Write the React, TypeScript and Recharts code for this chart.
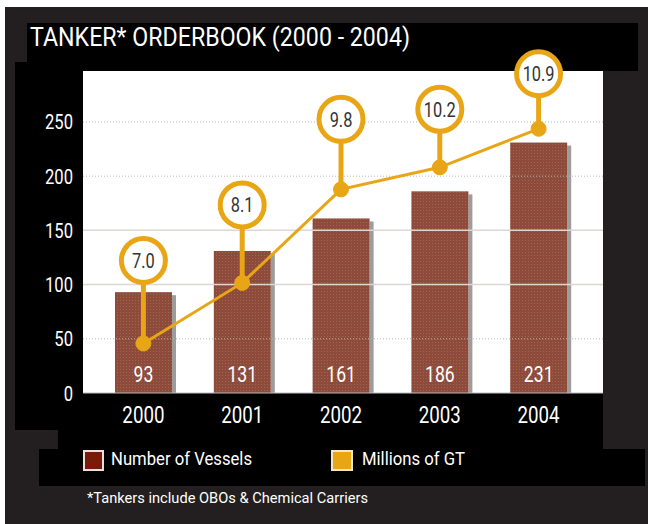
import { ComposedChart, Bar, Line, XAxis, YAxis, ReferenceLine, LabelList } from 'recharts'

const years = ['2000', '2001', '2002', '2003', '2004']
const vessels = [93, 131, 161, 186, 231]
const millionsGT = [7.0, 8.1, 9.8, 10.2, 10.9]
const yTicks = [0, 50, 100, 150, 200, 250]
const dottedGrid = [50, 200, 250]
const solidGrid = [100, 150]

const data = years.map((year, i) => ({ year, vessels: vessels[i], gt: millionsGT[i] }))

const FONT = 'Roboto, "Noto Sans", sans-serif'
const ORANGE = '#e8a617'
const BROWN = '#8e4a3b'

// how far above each point its callout circle sits
const calloutRise = [83, 78, 70, 58, 55]

// condensed look: squeeze Roboto horizontally around its anchor
function Narrow({ x, y, sx, size, fill = '#fff', anchor = 'middle', children }: any) {
  return (
    <text transform={`translate(${x},${y}) scale(${sx},1)`} x={0} y={0} fill={fill}
      fontSize={size} fontFamily={FONT} textAnchor={anchor}>
      {children}
    </text>
  )
}

function XTick(props: any) {
  const { x, y, payload } = props
  return <Narrow x={x} y={y + 30} sx={0.78} size={24}>{payload.value}</Narrow>
}

function YTick(props: any) {
  const { x, y, payload } = props
  return <Narrow x={x - 10} y={y + 7.5} sx={0.83} size={20} anchor="end">{payload.value}</Narrow>
}

function TexturedBar(props: any) {
  const { x, y, width, height, index } = props
  if (height <= 0) return null
  const pid = `dots-${index}`
  return (
    <g>
      <defs>
        <pattern id={pid} width="3" height="3" patternUnits="userSpaceOnUse">
          <rect width="3" height="3" fill={BROWN} />
          <rect width="1" height="1" fill="#9b6a4c" />
        </pattern>
      </defs>
      <rect x={x + width} y={y + 3} width={4} height={height - 3} fill="#4a4a4a" opacity={0.55} />
      <rect x={x} y={y} width={width} height={height} fill={`url(#${pid})`} />
    </g>
  )
}

function barLabel(props: any) {
  const { x, y, width, height, value } = props
  return <Narrow x={x + width / 2} y={y + height - 11.5} sx={0.8} size={22}>{value}</Narrow>
}

function callout(props: any) {
  const { x, y, value, index } = props
  const r = 22
  const cy = y - calloutRise[index]
  return (
    <g>
      <line x1={x} y1={cy + r} x2={x} y2={y} stroke={ORANGE} strokeWidth={5} />
      <circle cx={x} cy={cy} r={r} fill="#fff" stroke={ORANGE} strokeWidth={5} />
      <Narrow x={x} y={cy + 7.5} sx={0.78} size={21} fill="#333">{Number(value).toFixed(1)}</Narrow>
    </g>
  )
}

function box(left: number, top: number, width: number, height: number, background: string) {
  return <div style={{ position: 'absolute', left, top, width, height, background }} />
}

export default function App() {
  return (
    <div style={{ position: 'absolute', left: 0, top: 0, width: 648, height: 524, background: '#fff', overflow: 'hidden' }}>
      {box(5, 7, 643, 517, '#231f20')}
      {box(27, 23, 611, 48, '#000')}
      {box(15, 62, 588, 368, '#000')}
      {box(58, 430, 545, 20, '#000')}
      {box(39, 449, 606, 37, '#000')}
      {box(83, 71, 520, 322, '#fff')}
      <div style={{ position: 'absolute', left: 83, top: 450, width: 17, height: 17, background: '#7a1a08', border: '2px solid #e8e2dc' }} />
      <div style={{ position: 'absolute', left: 331, top: 450, width: 18, height: 17, background: ORANGE, border: '2px solid #f2e6c8' }} />

      <svg width={648} height={524} style={{ position: 'absolute', left: 0, top: 0 }}>
        <text x={30} y={46} fill="#fff" fontSize={25} fontFamily={FONT} textLength={380} lengthAdjust="spacingAndGlyphs">
          TANKER* ORDERBOOK (2000 - 2004)
        </text>
        <text x={111} y={465} fill="#fff" fontSize={19} fontFamily={FONT} textLength={141} lengthAdjust="spacingAndGlyphs">
          Number of Vessels
        </text>
        <text x={362} y={465} fill="#fff" fontSize={19} fontFamily={FONT} textLength={103} lengthAdjust="spacingAndGlyphs">
          Millions of GT
        </text>
        <text x={87} y={503} fill="#fff" fontSize={14} fontFamily={FONT} textLength={281} lengthAdjust="spacingAndGlyphs">
          *Tankers include OBOs &amp; Chemical Carriers
        </text>
      </svg>

      <div style={{ position: 'absolute', left: 0, top: 0 }}>
        <ComposedChart width={648} height={524} data={data}
          margin={{ top: 71, right: 45, bottom: 101, left: 23 }}>
          <XAxis dataKey="year" padding={{ left: 11, right: 15 }} height={30}
            axisLine={{ stroke: '#bdbdbd' }} tickLine={false} tickSize={0} tickMargin={0}
            tick={XTick} />
          <YAxis yAxisId="left" width={60} domain={[0, 297]} ticks={yTicks} interval={0}
            axisLine={false} tickLine={false} tickSize={0} tickMargin={0}
            tick={YTick} />
          <YAxis yAxisId="right" orientation="right" hide domain={[6.1, 11.95]} />
          {dottedGrid.map(v => (
            <ReferenceLine key={`d${v}`} yAxisId="left" y={v} stroke="#b5b5b5" strokeDasharray="1 2" />
          ))}
          {solidGrid.map(v => (
            <ReferenceLine key={`s${v}`} yAxisId="left" y={v} stroke="#ddd6d3" strokeWidth={1.5} />
          ))}
          <Bar yAxisId="left" dataKey="vessels" barSize={57} shape={TexturedBar} isAnimationActive={false}>
            <LabelList dataKey="vessels" content={barLabel} />
          </Bar>
          <Line yAxisId="right" dataKey="gt" type="linear" stroke={ORANGE} strokeWidth={3}
            dot={{ r: 7.5, fill: ORANGE, stroke: ORANGE, strokeWidth: 1 }} activeDot={false}
            isAnimationActive={false}>
            <LabelList dataKey="gt" content={callout} />
          </Line>
        </ComposedChart>
      </div>
    </div>
  )
}
